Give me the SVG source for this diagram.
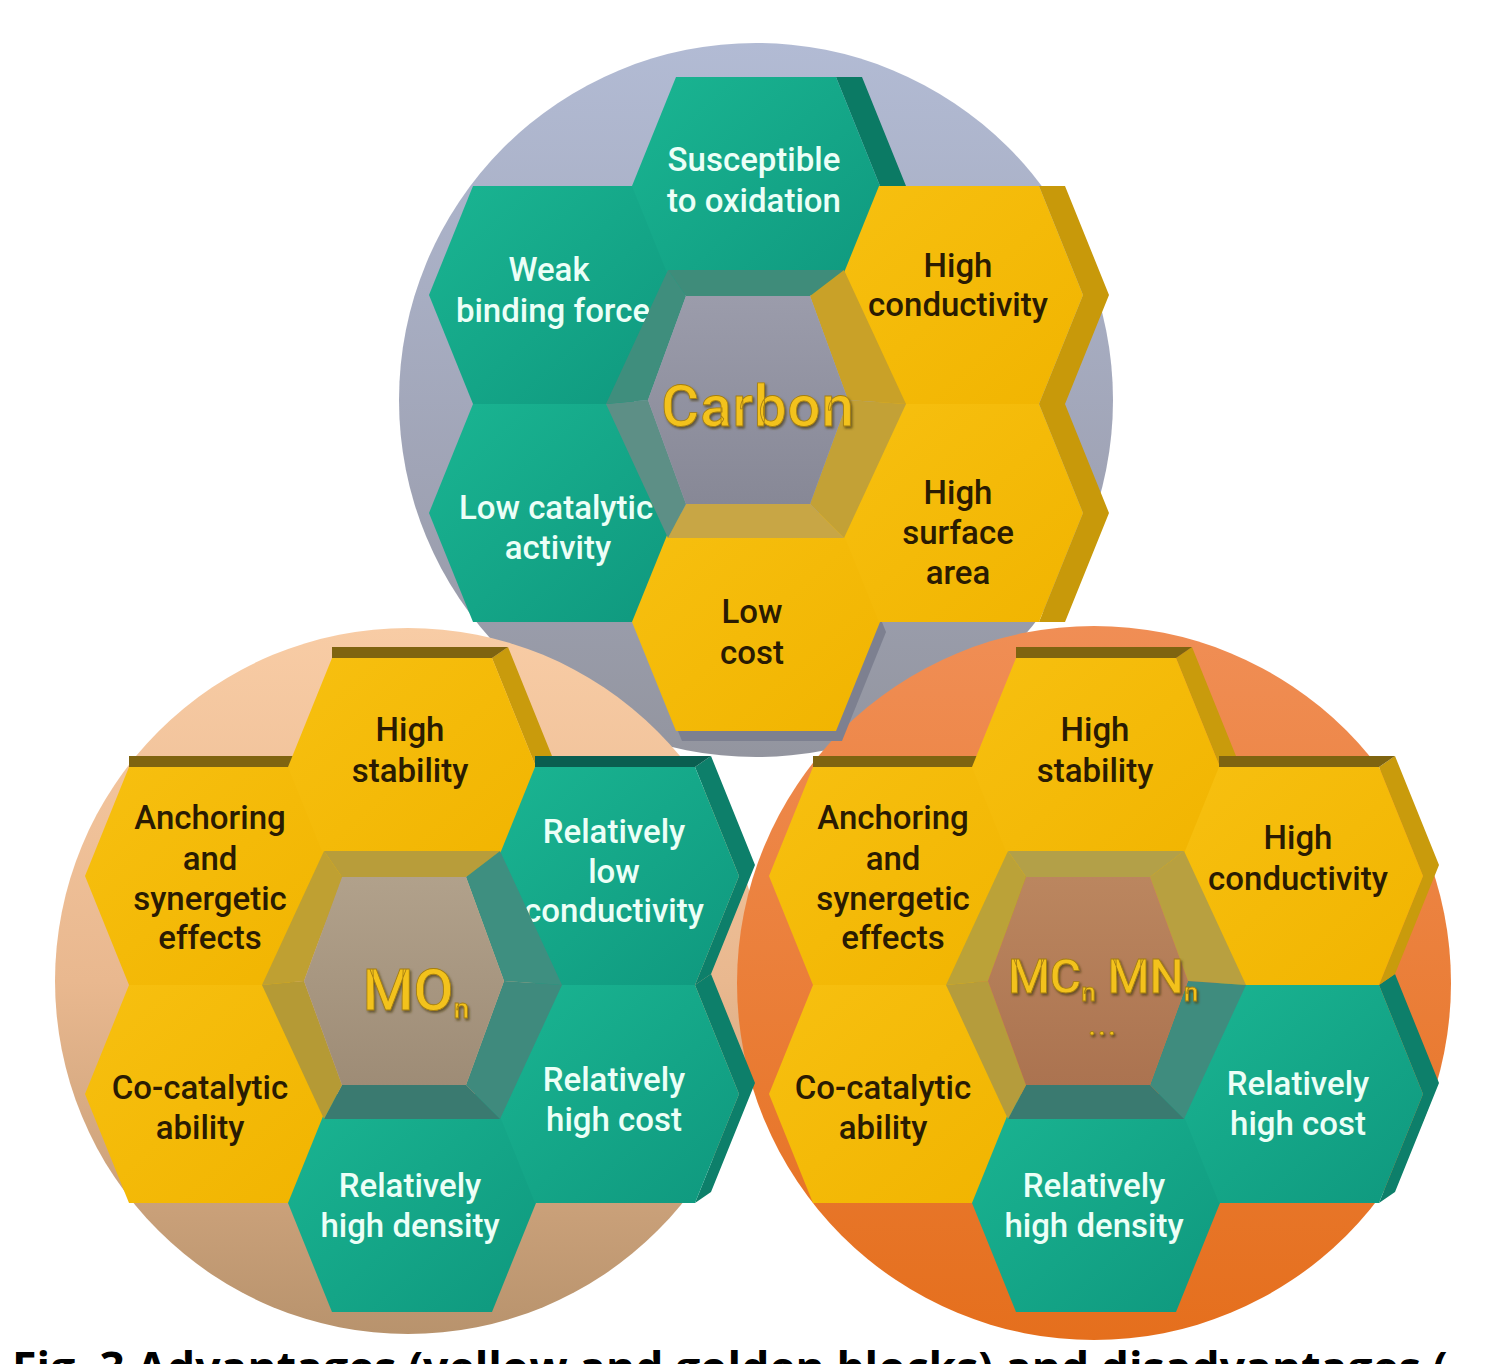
<svg xmlns="http://www.w3.org/2000/svg" width="1487" height="1364" viewBox="0 0 1487 1364">
<style>
.tw{font-family:Roboto,"Liberation Sans",sans-serif;font-weight:500;font-size:33px;fill:#ecfff7;text-anchor:middle}
.td{font-family:Roboto,"Liberation Sans",sans-serif;font-weight:500;font-size:33px;fill:#2a1b02;text-anchor:middle}
.ctr{font-family:Roboto,"Liberation Sans",sans-serif;font-weight:500;fill:#f3c21c;stroke:#a47e12;stroke-width:0.8;text-anchor:middle;filter:url(#glow)}
.cap{font-family:"Open Sans","Noto Sans",sans-serif;font-weight:700;font-size:44.5px;fill:#000}
</style>
<defs>
<linearGradient id="bgC" x1="0" y1="0" x2="0" y2="1"><stop offset="0" stop-color="#b2bbd4"/><stop offset="0.6" stop-color="#a0a4b6"/><stop offset="1" stop-color="#93959f"/></linearGradient>
<linearGradient id="bgM" x1="0" y1="0" x2="0" y2="1"><stop offset="0" stop-color="#f8cca5"/><stop offset="0.5" stop-color="#e9b88f"/><stop offset="1" stop-color="#b8936d"/></linearGradient>
<linearGradient id="bgN" x1="0" y1="0" x2="0" y2="1"><stop offset="0" stop-color="#f08e55"/><stop offset="1" stop-color="#e56f1d"/></linearGradient>
<linearGradient id="gGreen" x1="0" y1="0" x2="1" y2="1"><stop offset="0" stop-color="#1ab592"/><stop offset="1" stop-color="#0f987e"/></linearGradient>
<linearGradient id="gYellow" x1="0" y1="0" x2="1" y2="1"><stop offset="0" stop-color="#f7c010"/><stop offset="1" stop-color="#f1b400"/></linearGradient>
<linearGradient id="fC" x1="0" y1="0" x2="0" y2="1"><stop offset="0" stop-color="#9b9cab"/><stop offset="1" stop-color="#878896"/></linearGradient>
<linearGradient id="fM" x1="0" y1="0" x2="0" y2="1"><stop offset="0" stop-color="#b1a18b"/><stop offset="1" stop-color="#9e8c76"/></linearGradient>
<linearGradient id="fN" x1="0" y1="0" x2="0" y2="1"><stop offset="0" stop-color="#bb865f"/><stop offset="1" stop-color="#ab7350"/></linearGradient>
<filter id="glow" x="-10%" y="-20%" width="120%" height="150%"><feDropShadow dx="1.5" dy="2" stdDeviation="1.2" flood-color="#4a3c10" flood-opacity="0.7"/></filter>
<polygon id="face" points="-124,0 -80,-109 80,-109 124,0 80,109 -80,109"/>
<polygon id="sideC" points="80,-109 106,-109 150,0 106,109 80,109 124,0"/>
<polygon id="sideR" points="80,-109 96,-120 140,-11 96,98 80,109 124,0"/>
<polygon id="sideT" points="-80,-120 96,-120 80,-109 -80,-109"/>
<polygon id="wT" points="-88,-134 88,-134 54,-108 -70,-108"/>
<polygon id="wUR" points="88,-134 150,0 92,-4 54,-108"/>
<polygon id="wLR" points="150,0 88,134 54,100 92,-4"/>
<polygon id="wB" points="88,134 -88,134 -70,100 54,100"/>
<polygon id="wLL" points="-88,134 -150,0 -108,-4 -70,100"/>
<polygon id="wUL" points="-150,0 -88,-134 -70,-108 -108,-4"/>
<polygon id="floor" points="-108,-4 -70,-108 54,-108 92,-4 54,100 -70,100"/>
</defs>

<g id="backgrounds">
<circle cx="756" cy="400" r="357" fill="url(#bgC)"/>
<circle cx="408" cy="981" r="353" fill="url(#bgM)"/>
<circle cx="1094" cy="983" r="357" fill="url(#bgN)"/>
</g>

<g id="connectors"></g>

<!-- Carbon cluster -->
<g id="carbon-low-catalytic" transform="translate(553,513)">
<use href="#face" fill="url(#gGreen)"/>
<text class="tw"><tspan x="3" y="6">Low catalytic</tspan><tspan x="5" y="46">activity</tspan></text>
</g>
<g id="carbon-weak-binding" transform="translate(553,295)">
<use href="#face" fill="url(#gGreen)"/>
<text class="tw"><tspan x="-4" y="-14">Weak</tspan><tspan x="0" y="27">binding force</tspan></text>
</g>
<g id="carbon-low-cost" transform="translate(756,622)">
<use href="#face" x="6" y="10" fill="#7d8090"/><use href="#face" fill="url(#gYellow)"/>
<text class="td"><tspan x="-4" y="1">Low</tspan><tspan x="-4" y="42">cost</tspan></text>
</g>
<g id="carbon-susceptible" transform="translate(756,186)">
<use href="#sideC" fill="#0b7a64"/><use href="#face" fill="url(#gGreen)"/>
<text class="tw"><tspan x="-2" y="-15">Susceptible</tspan><tspan x="-2" y="26">to oxidation</tspan></text>
</g>
<g id="carbon-high-surface" transform="translate(959,513)">
<use href="#sideC" fill="#c8990a"/><use href="#face" fill="url(#gYellow)"/>
<text class="td"><tspan x="-1" y="-9">High</tspan><tspan x="-1" y="31">surface</tspan><tspan x="-1" y="71">area</tspan></text>
</g>
<g id="carbon-high-conductivity" transform="translate(959,295)">
<use href="#sideC" fill="#c8990a"/><use href="#face" fill="url(#gYellow)"/>
<text class="td"><tspan x="-1" y="-18">High</tspan><tspan x="-1" y="21">conductivity</tspan></text>
</g>
<g id="carbon-core" transform="translate(756,404)">
<use href="#wT" fill="#3f8c7a"/><use href="#wUR" fill="#c9a128"/><use href="#wLR" fill="#c3a136"/>
<use href="#wB" fill="#c8a645"/><use href="#wLL" fill="#5d8f86"/><use href="#wUL" fill="#3f8e7d"/>
<use href="#floor" fill="url(#fC)"/>
<text class="ctr" x="2" y="22" font-size="58" letter-spacing="1">Carbon</text>
</g>

<!-- MOn cluster -->
<g id="mo-co-catalytic" transform="translate(209,1094)">
<use href="#face" fill="url(#gYellow)"/>
<text class="td"><tspan x="-9" y="5">Co-catalytic</tspan><tspan x="-9" y="45">ability</tspan></text>
</g>
<g id="mo-anchoring" transform="translate(209,876)">
<use href="#sideR" fill="#c99b0c"/><use href="#sideT" fill="#7f6410"/><use href="#face" fill="url(#gYellow)"/>
<text class="td"><tspan x="1" y="-47">Anchoring</tspan><tspan x="1" y="-6">and</tspan><tspan x="1" y="34">synergetic</tspan><tspan x="1" y="73">effects</tspan></text>
</g>
<g id="mo-high-density" transform="translate(412,1203)">
<use href="#face" fill="url(#gGreen)"/>
<text class="tw"><tspan x="-2" y="-6">Relatively</tspan><tspan x="-2" y="34">high density</tspan></text>
</g>
<g id="mo-high-stability" transform="translate(412,767)">
<use href="#sideR" fill="#c99b0c"/><use href="#sideT" fill="#7f6410"/><use href="#face" fill="url(#gYellow)"/>
<text class="td"><tspan x="-2" y="-26">High</tspan><tspan x="-2" y="15">stability</tspan></text>
</g>
<g id="mo-high-cost" transform="translate(615,1094)">
<use href="#sideR" fill="#0d7f6a"/><use href="#face" fill="url(#gGreen)"/>
<text class="tw"><tspan x="-1" y="-3">Relatively</tspan><tspan x="-1" y="37">high cost</tspan></text>
</g>
<g id="mo-low-conductivity" transform="translate(615,876)">
<use href="#sideR" fill="#0d7f6a"/><use href="#sideT" fill="#0a5e50"/><use href="#face" fill="url(#gGreen)"/>
<text class="tw"><tspan x="-1" y="-33">Relatively</tspan><tspan x="-1" y="7">low</tspan><tspan x="-1" y="46">conductivity</tspan></text>
</g>
<g id="mo-core" transform="translate(412,985)">
<use href="#wT" fill="#b89d3a"/><use href="#wUR" fill="#3e8f80"/><use href="#wLR" fill="#3f8a7d"/>
<use href="#wB" fill="#3a7a70"/><use href="#wLL" fill="#b59a35"/><use href="#wUL" fill="#bfa032"/>
<use href="#floor" fill="url(#fM)"/>
<text class="ctr" x="4" y="25" font-size="58">MO<tspan font-size="28" dy="8">n</tspan></text>
</g>

<!-- MCn/MNn cluster -->
<g id="mc-co-catalytic" transform="translate(893,1094)">
<use href="#face" fill="url(#gYellow)"/>
<text class="td"><tspan x="-10" y="5">Co-catalytic</tspan><tspan x="-10" y="45">ability</tspan></text>
</g>
<g id="mc-anchoring" transform="translate(893,876)">
<use href="#sideR" fill="#c99b0c"/><use href="#sideT" fill="#7f6410"/><use href="#face" fill="url(#gYellow)"/>
<text class="td"><tspan x="0" y="-47">Anchoring</tspan><tspan x="0" y="-6">and</tspan><tspan x="0" y="34">synergetic</tspan><tspan x="0" y="73">effects</tspan></text>
</g>
<g id="mc-high-density" transform="translate(1096,1203)">
<use href="#face" fill="url(#gGreen)"/>
<text class="tw"><tspan x="-2" y="-6">Relatively</tspan><tspan x="-2" y="34">high density</tspan></text>
</g>
<g id="mc-high-stability" transform="translate(1096,767)">
<use href="#sideR" fill="#c99b0c"/><use href="#sideT" fill="#7f6410"/><use href="#face" fill="url(#gYellow)"/>
<text class="td"><tspan x="-1" y="-26">High</tspan><tspan x="-1" y="15">stability</tspan></text>
</g>
<g id="mc-high-cost" transform="translate(1299,1094)">
<use href="#sideR" fill="#0d7f6a"/><use href="#face" fill="url(#gGreen)"/>
<text class="tw"><tspan x="-1" y="1">Relatively</tspan><tspan x="-1" y="41">high cost</tspan></text>
</g>
<g id="mc-high-conductivity" transform="translate(1299,876)">
<use href="#sideR" fill="#c99b0c"/><use href="#sideT" fill="#7f6410"/><use href="#face" fill="url(#gYellow)"/>
<text class="td"><tspan x="-1" y="-27">High</tspan><tspan x="-1" y="14">conductivity</tspan></text>
</g>
<g id="mc-core" transform="translate(1096,985)">
<use href="#wT" fill="#b3a048"/><use href="#wUR" fill="#b8a040"/><use href="#wLR" fill="#3f8c7e"/>
<use href="#wB" fill="#3a7a70"/><use href="#wLL" fill="#b59c3c"/><use href="#wUL" fill="#bba238"/>
<use href="#floor" fill="url(#fN)"/>
<text class="ctr" x="7" y="8" font-size="48">MC<tspan font-size="26" dy="8">n</tspan><tspan dy="-8"> MN</tspan><tspan font-size="26" dy="8">n</tspan></text>
<text class="ctr" x="7" y="50" font-size="28" letter-spacing="2">...</text>
</g>

<text class="cap" x="12" y="1384">Fig. 3 Advantages (yellow and golden blocks) and disadvantages (</text>
</svg>
